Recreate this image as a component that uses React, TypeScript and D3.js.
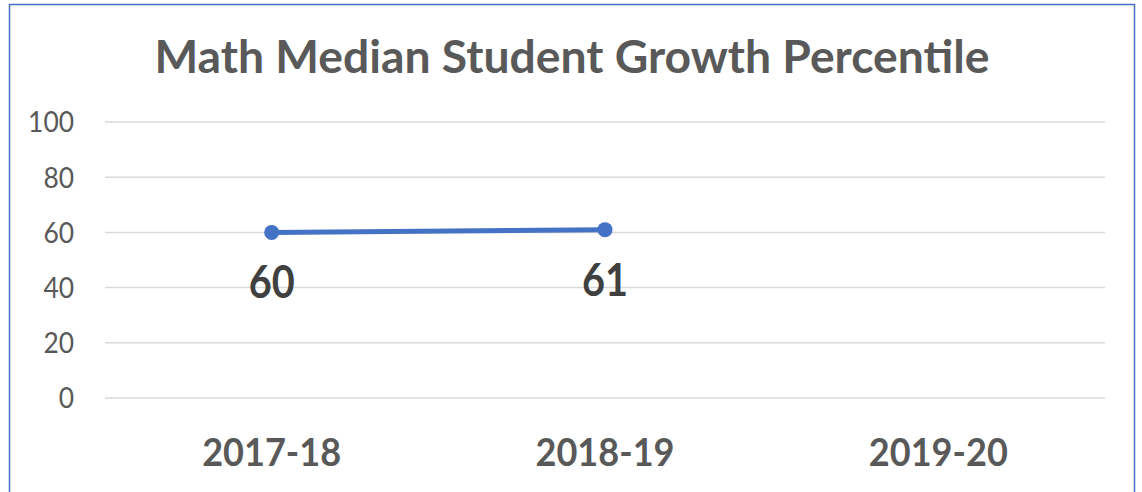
import React, { useRef, useEffect } from 'react';
import * as d3 from 'd3';

const categories = ['2017-18', '2018-19', '2019-20'];
const values: (number | null)[] = [60, 61, null];
const yTicks = [0, 20, 40, 60, 80, 100];
const title = 'Math Median Student Growth Percentile';

const App = () => {
  const svgRef = useRef<SVGSVGElement>(null);

  useEffect(() => {
    const width = 1142;
    const height = 492;
    const margin = { top: 122, right: 37, bottom: 94, left: 105 };
    const font = "Lato, 'Open Sans', sans-serif";

    const svg = d3.select(svgRef.current)
      .attr('width', width)
      .attr('height', height);
    svg.selectAll('*').remove();

    svg.append('rect')
      .attr('width', width)
      .attr('height', height)
      .attr('fill', '#fff');

    // 外框（底边在画面外）
    svg.append('path')
      .attr('d', `M9.5,${height + 5}V4.5H1134.5V${height + 5}`)
      .attr('fill', 'none')
      .attr('stroke', '#4472C4')
      .attr('stroke-width', 1.5);

    const x = d3.scaleBand()
      .domain(categories)
      .range([margin.left, width - margin.right]);

    const y = d3.scaleLinear()
      .domain([0, 100])
      .range([height - margin.bottom, margin.top]);

    // 标题
    svg.append('text')
      .attr('x', 572)
      .attr('y', 73)
      .attr('text-anchor', 'middle')
      .attr('font-family', font)
      .attr('font-weight', 'bold')
      .attr('font-size', 46)
      .attr('fill', '#595959')
      .attr('textLength', 835)
      .attr('lengthAdjust', 'spacingAndGlyphs')
      .text(title);

    // 网格线
    svg.append('g')
      .selectAll('line')
      .data(yTicks)
      .join('line')
      .attr('x1', margin.left)
      .attr('x2', width - margin.right)
      .attr('y1', d => y(d))
      .attr('y2', d => y(d))
      .attr('stroke', '#d9d9d9')
      .attr('stroke-width', 1.5);

    // y 轴标签
    svg.append('g')
      .selectAll('text')
      .data(yTicks)
      .join('text')
      .attr('x', 74)
      .attr('y', d => y(d))
      .attr('dy', '0.36em')
      .attr('text-anchor', 'end')
      .attr('font-family', font)
      .attr('font-size', 29)
      .attr('fill', '#595959')
      .attr('textLength', d => String(d).length * 15.3)
      .attr('lengthAdjust', 'spacingAndGlyphs')
      .text(d => d);

    // x 轴标签
    svg.append('g')
      .selectAll('text')
      .data(categories)
      .join('text')
      .attr('x', d => x(d)! + x.bandwidth() / 2)
      .attr('y', 466)
      .attr('text-anchor', 'middle')
      .attr('font-family', font)
      .attr('font-weight', 'bold')
      .attr('font-size', 39)
      .attr('fill', '#595959')
      .attr('textLength', 139)
      .attr('lengthAdjust', 'spacingAndGlyphs')
      .text(d => d);

    const points = categories
      .map((c, i) => ({ c, v: values[i] }))
      .filter(d => d.v !== null) as { c: string; v: number }[];

    const line = d3.line<{ c: string; v: number }>()
      .x(d => x(d.c)! + x.bandwidth() / 2)
      .y(d => y(d.v));

    svg.append('path')
      .datum(points)
      .attr('d', line)
      .attr('fill', 'none')
      .attr('stroke', '#4472C4')
      .attr('stroke-width', 5)
      .attr('stroke-linecap', 'round');

    svg.append('g')
      .selectAll('circle')
      .data(points)
      .join('circle')
      .attr('cx', d => x(d.c)! + x.bandwidth() / 2)
      .attr('cy', d => y(d.v))
      .attr('r', 7.5)
      .attr('fill', '#4472C4');

    // 数据标签
    svg.append('g')
      .selectAll('text')
      .data(points)
      .join('text')
      .attr('x', d => x(d.c)! + x.bandwidth() / 2)
      .attr('y', d => y(d.v) + 66)
      .attr('text-anchor', 'middle')
      .attr('font-family', font)
      .attr('font-weight', 'bold')
      .attr('font-size', 45)
      .attr('fill', '#404040')
      .attr('textLength', 46)
      .attr('lengthAdjust', 'spacingAndGlyphs')
      .text(d => d.v);
  }, []);

  return (
    <div style={{ position: 'fixed', left: 0, top: 0 }}>
      <svg ref={svgRef} style={{ display: 'block' }}></svg>
    </div>
  );
};

export default App;
